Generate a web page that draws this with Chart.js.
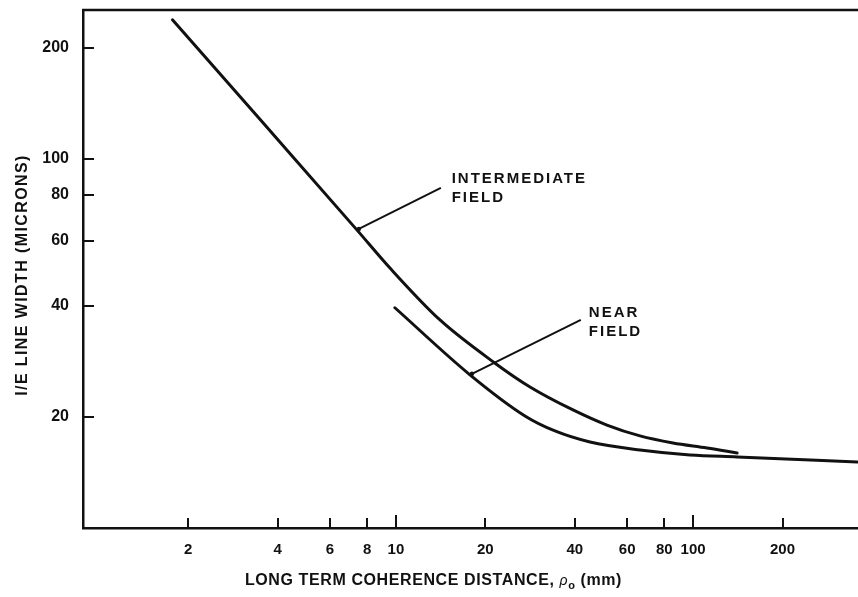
<!DOCTYPE html>
<html><head><meta charset="utf-8">
<script src="https://cdn.jsdelivr.net/npm/chart.js@4/dist/chart.umd.min.js"></script>
<style>html,body{margin:0;padding:0;background:#fff}canvas{display:block}</style>
</head><body>
<canvas id="c" width="858" height="597"></canvas>
<script>
// ---- data ----
const xTickValues = [2, 4, 6, 8, 10, 20, 40, 60, 80, 100, 200];
const yTickValues = [20, 40, 60, 80, 100, 200];
const intermediateX = [1.77, 3.62, 7.39, 9.55, 14.07, 21.5, 28.27, 39.45, 51.3, 66.3, 85.6, 111.4, 140.7];
const intermediateY = [238, 123.6, 64.2, 50.6, 36.6, 28.0, 24.1, 20.88, 19.0, 17.76, 17.0, 16.48, 15.97];
const nearX = [9.92, 17.75, 27.18, 34.3, 45.0, 66.3, 97.7, 140.7, 357];
const nearY = [39.5, 26.0, 20.12, 18.32, 17.1, 16.27, 15.77, 15.58, 15.09];
const xRange = [0.885, 359];
const yRange = [10, 253];
const seriesNames = ['INTERMEDIATE FIELD', 'NEAR FIELD'];
const xTitle = 'LONG TERM COHERENCE DISTANCE,';
const yTitle = 'I/E LINE WIDTH (MICRONS)';
// label anchors (data coordinates) and leader line endpoints
const labelIntermediate = { lines: ['INTERMEDIATE', 'FIELD'], x: 15.4, y: 86, from: [14.17, 83.4], to: [7.39, 64.2] };
const labelNear = { lines: ['NEAR', 'FIELD'], x: 44.6, y: 37.3, from: [41.9, 36.6], to: [17.75, 26.0] };

const FONT = '"Liberation Sans", Arial, Helvetica, sans-serif';
const INK = '#111';

const toPts = (xs, ys) => xs.map((x, i) => ({ x, y: ys[i] }));

const decor = {
  id: 'decor',
  afterDraw(chart) {
    const { ctx, chartArea: a, scales: { x, y } } = chart;
    ctx.save();
    ctx.strokeStyle = INK;
    ctx.fillStyle = INK;
    // top frame line
    ctx.lineWidth = 2.5;
    ctx.beginPath(); ctx.moveTo(a.left - 1, a.top); ctx.lineTo(a.right, a.top); ctx.stroke();
    // inward ticks
    ctx.lineWidth = 2;
    yTickValues.forEach(v => {
      const py = Math.round(y.getPixelForValue(v));
      ctx.beginPath(); ctx.moveTo(a.left, py); ctx.lineTo(a.left + 11, py); ctx.stroke();
    });
    xTickValues.forEach(v => {
      const px = Math.round(x.getPixelForValue(v));
      const len = (v === 10 || v === 100) ? 13 : 10;
      ctx.beginPath(); ctx.moveTo(px, a.bottom); ctx.lineTo(px, a.bottom - len); ctx.stroke();
    });
    // annotations
    ctx.font = 'bold 15px ' + FONT;
    ctx.letterSpacing = '2px';
    ctx.textBaseline = 'alphabetic';
    ctx.textAlign = 'left';
    [labelIntermediate, labelNear].forEach(l => {
      const lx = x.getPixelForValue(l.x), ly = y.getPixelForValue(l.y);
      l.lines.forEach((t, i) => ctx.fillText(t, lx, ly + i * 19));
      ctx.lineWidth = 2;
      const tx = x.getPixelForValue(l.to[0]), ty = y.getPixelForValue(l.to[1]);
      ctx.beginPath();
      ctx.moveTo(x.getPixelForValue(l.from[0]), y.getPixelForValue(l.from[1]));
      ctx.lineTo(tx, ty);
      ctx.stroke();
      ctx.beginPath(); ctx.arc(tx + 2, ty - 1, 2.2, 0, Math.PI * 2); ctx.fill();
    });
    // x title with rho subscript o
    ctx.letterSpacing = '0.6px';
    const cx = (a.left + a.right) / 2 - 37;
    const by = a.bottom + 57;
    ctx.font = 'bold 16px ' + FONT;
    const w1 = ctx.measureText(xTitle + ' ').width;
    ctx.font = 'italic 14px ' + FONT;
    const wr = ctx.measureText('ρ').width;
    ctx.font = 'bold 11px ' + FONT;
    const wo = ctx.measureText('o').width;
    ctx.font = 'bold 16px ' + FONT;
    const w3 = ctx.measureText(' (mm)').width;
    let sx = cx - (w1 + wr + wo + w3) / 2;
    ctx.font = 'bold 16px ' + FONT; ctx.fillText(xTitle + ' ', sx, by); sx += w1;
    ctx.font = 'italic 14px ' + FONT; ctx.fillText('ρ', sx, by); sx += wr;
    ctx.font = 'bold 11px ' + FONT; ctx.fillText('o', sx, by + 4); sx += wo;
    ctx.font = 'bold 16px ' + FONT; ctx.fillText(' (mm)', sx, by);
    // y title
    ctx.letterSpacing = '1.4px';
    ctx.translate(27, (a.top + a.bottom) / 2 + 6);
    ctx.rotate(-Math.PI / 2);
    ctx.textAlign = 'center';
    ctx.font = 'bold 16px ' + FONT;
    ctx.fillText(yTitle, 0, 0);
    ctx.restore();
  }
};

new Chart(document.getElementById('c'), {
  type: 'line',
  data: {
    datasets: [
      { label: seriesNames[0], data: toPts(intermediateX, intermediateY) },
      { label: seriesNames[1], data: toPts(nearX, nearY) }
    ]
  },
  options: {
    responsive: false,
    animation: false,
    layout: { padding: { top: 10, right: 0, left: 0, bottom: 0 } },
    elements: {
      line: { borderColor: INK, borderWidth: 3, cubicInterpolationMode: 'monotone', fill: false, borderCapStyle: 'round' },
      point: { radius: 0, hoverRadius: 0 }
    },
    plugins: { legend: { display: false }, tooltip: { enabled: false }, title: { display: false } },
    scales: {
      x: {
        type: 'logarithmic',
        min: xRange[0], max: xRange[1],
        afterBuildTicks: s => { s.ticks = xTickValues.map(v => ({ value: v })); },
        afterFit: s => { s.height = 69; s.paddingLeft = 0; s.paddingRight = 0; },
        grid: { display: false, drawTicks: false },
        border: { display: true, color: INK, width: 2.5 },
        ticks: { autoSkip: false, maxRotation: 0, padding: 13, color: INK,
                 font: { family: FONT, size: 15, weight: 'bold' },
                 callback: v => String(v) }
      },
      y: {
        type: 'logarithmic',
        min: yRange[0], max: yRange[1],
        afterBuildTicks: s => { s.ticks = yTickValues.map(v => ({ value: v })); },
        afterFit: s => { s.width = 83; s.paddingTop = 0; s.paddingBottom = 0; },
        grid: { display: false, drawTicks: false },
        border: { display: true, color: INK, width: 2.5 },
        ticks: { autoSkip: false, padding: 14, color: INK,
                 font: { family: FONT, size: 16, weight: 'bold' },
                 callback: v => String(v) }
      }
    }
  },
  plugins: [decor]
});
</script>
</body></html>
